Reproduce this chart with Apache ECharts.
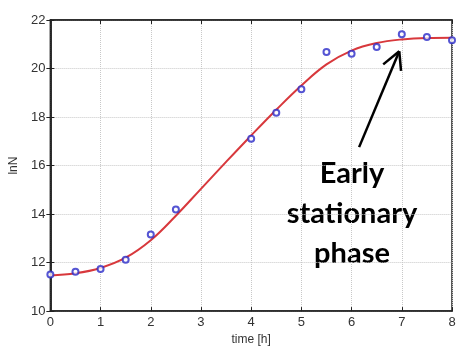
<!DOCTYPE html>
<html>
<head>
<meta charset="utf-8">
<script src="https://cdn.jsdelivr.net/npm/echarts@6/dist/echarts.min.js"></script>
<style>
  html, body { margin: 0; padding: 0; background: #fff; }
  #chart { width: 461px; height: 351px; }
</style>
</head>
<body>
<div id="chart"></div>
<script>
// measured lnN points
const timeH = [0, 0.5, 1, 1.5, 2, 2.5, 4, 4.5, 5, 5.5, 6, 6.5, 7, 7.5, 8];
const lnN = [11.51, 11.62, 11.74, 12.12, 13.16, 14.19, 17.1, 18.18, 19.15, 20.68, 20.61, 20.89, 21.41, 21.3, 21.17];
// fitted curve
const fitT = [0, 0.5, 1, 1.5, 2, 2.5, 3, 3.5, 4, 4.5, 5, 5.5, 6, 6.5, 7, 7.5, 8];
const fitLnN = [11.47, 11.56, 11.78, 12.2, 12.92, 13.93, 15.04, 16.15, 17.24, 18.3, 19.3, 20.17, 20.74, 21.05, 21.2, 21.26, 21.27];
const xTicks = [0, 1, 2, 3, 4, 5, 6, 7, 8];
const yTicks = [10, 12, 14, 16, 18, 20, 22];
// annotation arrow (data coords): tail, head, two wings
const arrowTail = [6.15, 16.76];
const arrowHead = [6.95, 20.71];
const arrowWingL = [6.63, 20.17];
const arrowWingR = [6.985, 19.9];
const noteLines = ['Early', 'stationary', 'phase'];

const chart = echarts.init(document.getElementById('chart'));
const tickFont = { color: '#333', fontSize: 13, fontFamily: 'Liberation Sans' };
const armStyle = { color: '#000', width: 2.5, type: 'solid' };

chart.setOption({
  animation: false,
  backgroundColor: '#fff',
  grid: { left: 42, right: 9, top: 20, bottom: 35, show: true, borderColor: '#222', borderWidth: 1.5 },
  xAxis: [{
    type: 'value', min: xTicks[0], max: xTicks[xTicks.length - 1], interval: 1,
    name: 'time [h]', nameLocation: 'middle', nameGap: 20,
    nameTextStyle: { color: '#333', fontSize: 12, fontFamily: 'Liberation Sans' },
    axisLine: { lineStyle: { color: '#222', width: 1.5 } },
    axisTick: { inside: true, length: 4, lineStyle: { color: '#222' } },
    axisLabel: Object.assign({ margin: 5 }, tickFont),
    splitLine: { show: true, lineStyle: { color: '#c8c8c8', type: 'dotted' } }
  }, {
    type: 'value', position: 'top', min: 0, max: 8, interval: 1,
    axisLine: { show: true, lineStyle: { color: '#222', width: 1.5 } },
    axisTick: { inside: true, length: 4, lineStyle: { color: '#222' } },
    axisLabel: { show: false }, splitLine: { show: false }
  }],
  yAxis: [{
    type: 'value', min: yTicks[0], max: yTicks[yTicks.length - 1], interval: 2,
    name: 'lnN', nameLocation: 'middle', nameGap: 24,
    nameTextStyle: { color: '#333', fontSize: 12, fontFamily: 'Liberation Sans' },
    axisLine: { show: true, lineStyle: { color: '#222', width: 1.5 } },
    axisTick: { inside: true, length: 4, lineStyle: { color: '#222' } },
    axisLabel: Object.assign({ margin: 5 }, tickFont),
    splitLine: { show: true, lineStyle: { color: '#c8c8c8', type: 'dotted' } }
  }, {
    type: 'value', position: 'right', min: 10, max: 22, interval: 2,
    axisLine: { show: true, lineStyle: { color: '#222', width: 1.5 } },
    axisTick: { show: true, inside: true, length: 4, lineStyle: { color: '#222' } },
    axisLabel: { show: false }, splitLine: { show: false }
  }],
  series: [
    {
      type: 'line', smooth: 0.4, showSymbol: false, z: 2,
      data: fitT.map((t, i) => [t, fitLnN[i]]),
      lineStyle: { color: '#d8383c', width: 2 },
      markLine: {
        silent: true, symbol: 'none', label: { show: false },
        lineStyle: armStyle,
        data: [
          [{ coord: arrowTail }, { coord: arrowHead }],
          [{ coord: arrowWingL }, { coord: arrowHead }],
          [{ coord: arrowWingR }, { coord: arrowHead }]
        ]
      }
    },
    {
      type: 'scatter', z: 3, xAxisIndex: 0, yAxisIndex: 0,
      data: timeH.map((t, i) => [t, lnN[i]]),
      symbol: 'emptyCircle', symbolSize: 6,
      itemStyle: { color: '#2b2bc8', borderWidth: 1.6 }
    }
  ],
  graphic: noteLines.map((s, i) => ({
    type: 'text', x: 352, y: 174 + i * 40,
    style: {
      text: s, fill: '#000', align: 'center', verticalAlign: 'middle',
      font: 'bold 29px Lato'
    }
  }))
});
</script>
</body>
</html>
